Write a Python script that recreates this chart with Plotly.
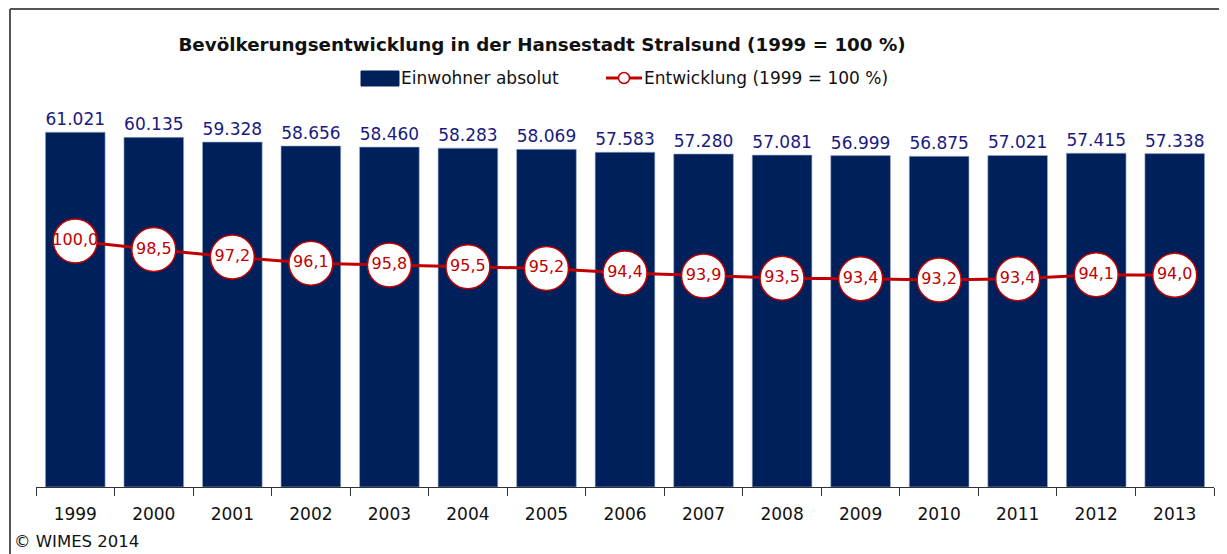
import plotly.graph_objects as go

years = ["1999", "2000", "2001", "2002", "2003", "2004", "2005", "2006",
         "2007", "2008", "2009", "2010", "2011", "2012", "2013"]
einwohner = [61021, 60135, 59328, 58656, 58460, 58283, 58069, 57583,
             57280, 57081, 56999, 56875, 57021, 57415, 57338]
entwicklung = [100.0, 98.5, 97.2, 96.1, 95.8, 95.5, 95.2, 94.4,
               93.9, 93.5, 93.4, 93.2, 93.4, 94.1, 94.0]

NAVY = "#00205b"
LABEL_NAVY = "#1a1a80"
RED = "#c00000"
FONT = "DejaVu Sans"

# page body has an 8px margin: figure is offset by it inside the window
OFF = 8
W, H = 1227 - OFF, 554 - OFF
# plot area in window pixel coordinates
X0, X1, Y0, Y1 = 36, 1214, 80, 487
L, R, T, B = X0 - OFF, W - (X1 - OFF), Y0 - OFF, H - (Y1 - OFF)
PW, PH = X1 - X0, Y1 - Y0


def px(x):
    return (x - X0) / PW


def py(y):
    return (Y1 - y) / PH


fig = go.Figure()

fig.add_trace(go.Bar(
    x=years, y=einwohner, name="Einwohner absolut",
    marker=dict(color=NAVY, line=dict(color="#9fb0cc", width=0.6)),
    texttemplate="%{y:,.0f}", textposition="outside",
    textfont=dict(color=LABEL_NAVY, size=17, family=FONT),
    cliponaxis=False, showlegend=False,
))

fig.add_trace(go.Scatter(
    x=years, y=entwicklung, yaxis="y2", name="Entwicklung (1999 = 100 %)",
    mode="lines+markers+text",
    line=dict(color=RED, width=3),
    marker=dict(size=44, color="white", line=dict(color=RED, width=1.5)),
    texttemplate="%{y:.1f}", textposition="middle center",
    textfont=dict(color=RED, size=16, family=FONT),
    cliponaxis=False, showlegend=False,
))

shapes = [
    # frame
    dict(type="line", xref="paper", yref="paper",
         x0=px(10), x1=px(1240), y0=py(9), y1=py(9),
         line=dict(color="#555555", width=2)),
    dict(type="line", xref="paper", yref="paper",
         x0=px(10), x1=px(10), y0=py(9), y1=py(570),
         line=dict(color="#555555", width=2)),
    # legend: bar symbol
    dict(type="rect", xref="paper", yref="paper",
         x0=px(361), x1=px(399), y0=py(71), y1=py(86),
         fillcolor=NAVY, line=dict(color=NAVY, width=1)),
    # legend: line symbol
    dict(type="line", xref="paper", yref="paper",
         x0=px(606), x1=px(642), y0=py(78), y1=py(78),
         line=dict(color=RED, width=3)),
    dict(type="circle", xref="paper", yref="paper",
         x0=px(618.5), x1=px(629.5), y0=py(72.5), y1=py(83.5),
         fillcolor="white", line=dict(color=RED, width=1.5)),
]

annotations = [
    dict(text="© WIMES 2014", xref="paper", yref="paper",
         x=px(12), xanchor="left", y=py(541), yanchor="middle",
         showarrow=False, font=dict(size=16.5, family=FONT, color="#111111")),
    dict(text="Einwohner absolut", xref="paper", yref="paper",
         x=px(399), xanchor="left", y=py(78), yanchor="middle",
         showarrow=False, font=dict(size=17, family=FONT, color="#111111")),
    dict(text="Entwicklung (1999 = 100 %)", xref="paper", yref="paper",
         x=px(642), xanchor="left", y=py(78), yanchor="middle",
         showarrow=False, font=dict(size=17, family=FONT, color="#111111")),
]

fig.update_layout(
    width=W, height=H,
    margin=dict(l=L, r=R, t=T, b=B, autoexpand=False),
    paper_bgcolor="white", plot_bgcolor="white",
    separators=",.",
    font=dict(family=FONT, size=16, color="#111111"),
    bargap=0.24,
    showlegend=False,
    title=dict(text="<b>Bevölkerungsentwicklung in der Hansestadt Stralsund (1999 = 100 %)</b>",
               x=(542 - OFF) / W, xref="container", xanchor="center",
               y=1 - (45 - OFF) / H, yref="container", yanchor="middle",
               font=dict(size=18.3, family=FONT, color="#111111")),
    xaxis=dict(type="category", range=[-0.5, 14.5], showgrid=False,
               showline=True, linecolor="#333333", linewidth=1,
               ticks="outside", tickson="boundaries", ticklen=8,
               tickcolor="#333333", ticklabelstandoff=12,
               tickfont=dict(size=17, family=FONT, color="#111111")),
    yaxis=dict(range=[0, 70000], visible=False, showgrid=False),
    yaxis2=dict(range=[57.1, 128.05], overlaying="y", visible=False,
                showgrid=False),
    shapes=shapes,
    annotations=annotations,
)

fig.write_html("out.html")
